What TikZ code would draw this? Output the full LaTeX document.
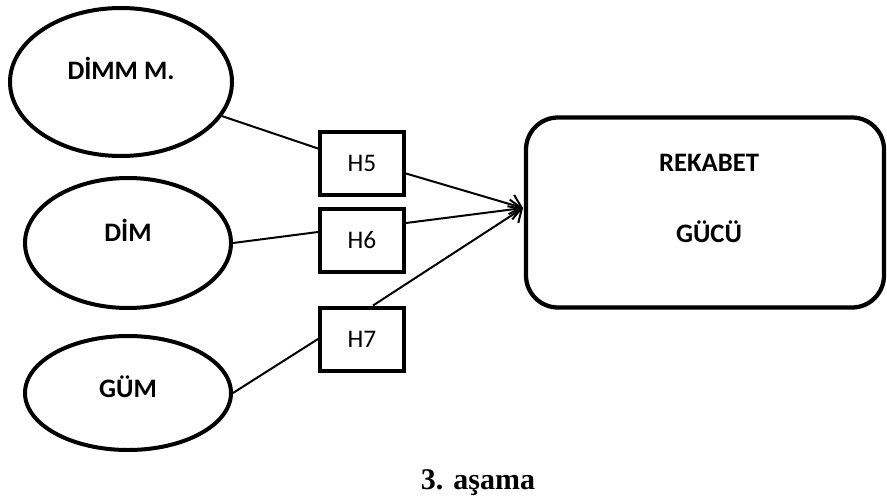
\documentclass[tikz,border=0pt]{standalone}
\usepackage{fontspec}
\setmainfont{Carlito}
\newfontfamily\capfont{Liberation Serif}
\usetikzlibrary{shapes.geometric,arrows.meta}
\begin{document}
\begin{tikzpicture}[x=0.75pt,y=-0.75pt,
  oval/.style={draw,ellipse,line width=3pt,inner sep=0pt},
  hbox/.style={draw,rectangle,line width=3pt,minimum width=84*0.75pt,minimum height=63*0.75pt,inner sep=0pt,font=\fontsize{19}{22}\selectfont},
  bigbox/.style={draw,rectangle,rounded corners=24pt,line width=3.2pt,minimum width=358*0.75pt,minimum height=190*0.75pt,inner sep=0pt},
  lbl/.style={font=\fontsize{20}{24}\selectfont\bfseries,inner sep=0pt},
  conn/.style={line width=1.5pt},
  arr/.style={line width=1.5pt,-{Straight Barb[length=8pt,width=15pt,line width=1.5pt]}}]
\useasboundingbox (0,0) rectangle (887,503);
% ellipses
\node[oval,minimum width=222*0.75pt,minimum height=148*0.75pt] (e1) at (121,82) {};
\node[oval,minimum width=206*0.75pt,minimum height=130*0.75pt] (e2) at (128,243) {};
\node[oval,minimum width=206*0.75pt,minimum height=114*0.75pt] (e3) at (128,393) {};
\node[lbl] (t1) at (121,68) {DİMM M.};
\node[lbl] (t2) at (128,230) {DİM};
\node[lbl] (t3) at (128,387) {GÜM};
% H boxes
\node[hbox] (h5) at (362,163.5) {H5};
\node[hbox] (h6) at (362,240) {H6};
\node[hbox] (h7) at (362,339) {H7};
% big box
\node[bigbox] (rk) at (705,212.5) {};
\node[lbl] (r1) at (709,163) {REKABET};
\node[lbl] (r2) at (709,232) {GÜCÜ};
\coordinate (tip) at (523,208);
% connectors
\draw[conn] (e1) -- ([yshift=11.25pt]h5.west);
\draw[conn] (e2.east) -- ([yshift=6pt]h6.west);
\draw[conn] (e3.east) -- (h7.west);
\draw[arr] ([yshift=-7.5pt]h5.east) -- (tip);
\draw[arr] ([yshift=12.75pt]h6.east) -- (tip);
\draw[arr] ([xshift=8.25pt]h7.north) -- (tip);
% caption
\node[font=\capfont\fontsize{22.5}{26}\selectfont\bfseries,inner sep=0pt] (cap) at (478,483) {3. aşama};
\end{tikzpicture}
\end{document}
